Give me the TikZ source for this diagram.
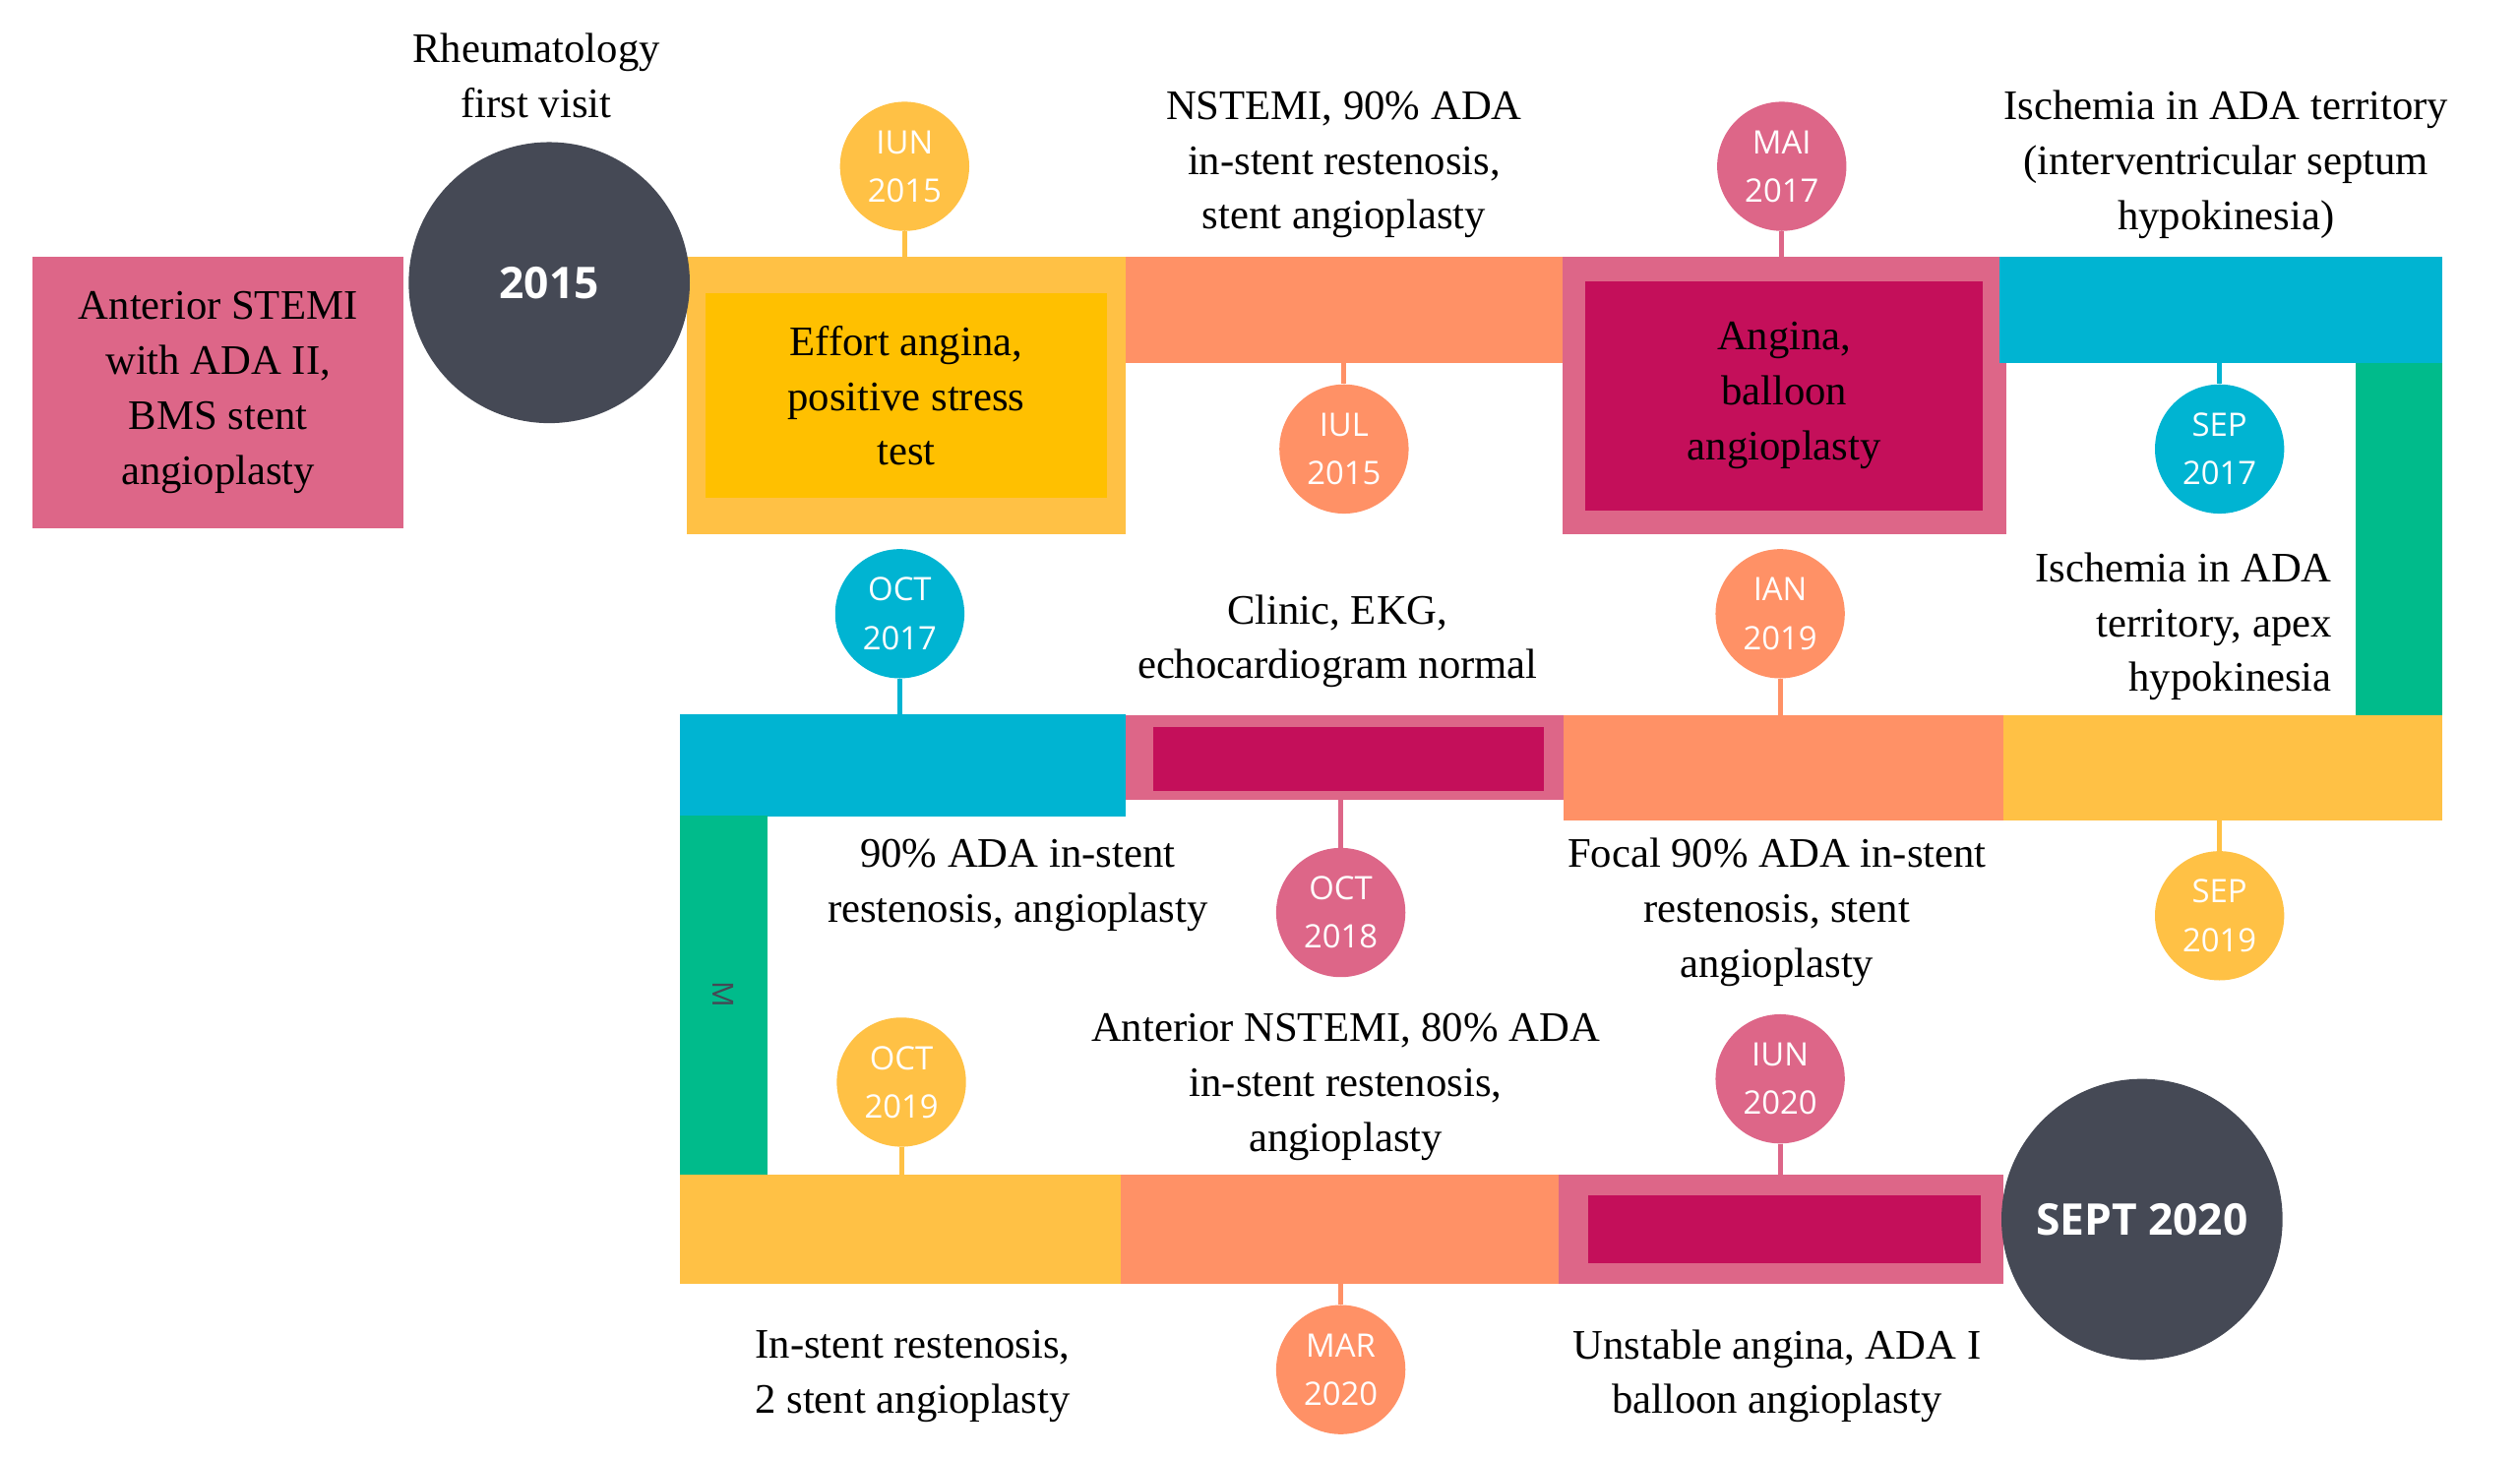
\documentclass[tikz,border=0pt]{standalone}
\usepackage{fontspec}
\setmainfont{Liberation Serif}
\newfontfamily\datefont{Open Sans}
\usetikzlibrary{positioning}
\definecolor{cYel}{HTML}{FFC145}
\definecolor{cGold}{HTML}{FFC000}
\definecolor{cOra}{HTML}{FF9166}
\definecolor{cPink}{HTML}{DD6688}
\definecolor{cRed}{HTML}{C40F5A}
\definecolor{cBlue}{HTML}{00B4D2}
\definecolor{cGreen}{HTML}{00BB8B}
\definecolor{cDark}{HTML}{454955}
\begin{document}
\begin{tikzpicture}
      [x=1pt, y=-1pt,
      bar/.style={rectangle, fill=#1, draw=none, inner sep=0pt, outer sep=0pt},
      date/.style={circle, fill=#1, minimum size=80pt, inner sep=0pt, align=center,
        text=white, font=\datefont\fontsize{20}{30}\selectfont},
      year/.style={circle, fill=cDark, minimum size=174pt, inner sep=0pt,
        text=white, font=\datefont\bfseries\fontsize{27}{30}\selectfont},
      stem/.style={draw=#1, line width=3pt},
      note/.style={align=center, font=\fontsize{26}{34}\selectfont}
      ]
    \useasboundingbox (0,0) rectangle (1560,902);

    % first row
    \node[bar=cPink, minimum width=230pt, minimum height=168pt, note] (stemi) at (135,243)
      {Anterior STEMI\\with ADA II,\\BMS stent\\angioplasty};
    \node[bar=cYel, minimum width=272pt, minimum height=172pt] (r1a) at (561,245) {};
    \node[bar=cGold, minimum width=248pt, minimum height=127pt, note] at (r1a) {Effort angina,\\positive stress\\test};
    \node[bar=cOra, minimum width=273pt, minimum height=66pt] (r1b) at (833.5,192) {};
    \node[bar=cPink, minimum width=275pt, minimum height=172pt] (r1c) at (1104.5,245) {};
    \node[bar=cRed, minimum width=246pt, minimum height=142pt, note] at (r1c) {Angina,\\balloon\\angioplasty};
    \node[bar=cBlue, minimum width=274pt, minimum height=66pt] (r1d) at (1375,192) {};
    \node[bar=cGreen, minimum width=54pt, minimum height=218pt] (g1) at (1485,334) {};
    \node[year] (y2015) at (340,175) {2015};
    \node[note] at (332,47) {Rheumatology\\first visit};

    \node[date=cYel] (d1) at (560,103) {IUN\\2015};
    \node[date=cOra] (d2) at (832,278) {IUL\\2015};
    \node[date=cPink] (d3) at (1103,103) {MAI\\2017};
    \node[date=cBlue] (d4) at (1374,278) {SEP\\2017};
    \draw[stem=cYel] (d1) -- (d1 |- r1a.north);
    \draw[stem=cOra] (d2) -- (d2 |- r1b.south);
    \draw[stem=cPink] (d3) -- (d3 |- r1c.north);
    \draw[stem=cBlue] (d4) -- (d4 |- r1d.south);
    \node[note] at (832,102) {NSTEMI, 90\% ADA\\in-stent restenosis,\\stent angioplasty};
    \node[note] at (1378,102) {Ischemia in ADA territory\\(interventricular septum\\hypokinesia)};

    % second row
    \node[bar=cBlue, minimum width=276pt, minimum height=63pt] (r2a) at (559,474) {};
    \node[bar=cGreen, minimum width=54pt, minimum height=222pt] (g2) at (448,616) {};
    \node[rotate=-90, text=cDark, font=\datefont\fontsize{18}{20}\selectfont] at (g2) {M};
    \node[bar=cPink, minimum width=271pt, minimum height=52pt] (r2b) at (832.5,469) {};
    \node[bar=cRed, minimum width=242pt, minimum height=40pt] at (835,470) {};
    \node[bar=cOra, minimum width=272pt, minimum height=65pt] (r2c) at (1104,475.5) {};
    \node[bar=cYel, minimum width=272pt, minimum height=65pt] (r2d) at (1376,475.5) {};

    \node[date=cBlue] (d5) at (557,380) {OCT\\2017};
    \node[date=cPink] (d6) at (830,565) {OCT\\2018};
    \node[date=cOra] (d7) at (1102,380) {IAN\\2019};
    \node[date=cYel] (d8) at (1374,567) {SEP\\2019};
    \draw[stem=cBlue] (d5) -- (d5 |- r2a.north);
    \draw[stem=cPink] (d6) -- (d6 |- r2b.south);
    \draw[stem=cOra] (d7) -- (d7 |- r2c.north);
    \draw[stem=cYel] (d8) -- (d8 |- r2d.south);
    \node[note] at (828,397) {Clinic, EKG,\\echocardiogram normal};
    \node[note, align=right, anchor=east] at (1447,388) {Ischemia in ADA\\territory, apex\\hypokinesia};
    \node[note] at (630,548) {90\% ADA in-stent\\restenosis, angioplasty};
    \node[note] at (1100,565) {Focal 90\% ADA in-stent\\restenosis, stent\\angioplasty};

    % third row
    \node[bar=cYel, minimum width=273pt, minimum height=68pt] (r3a) at (557.5,761) {};
    \node[bar=cOra, minimum width=273pt, minimum height=68pt] (r3b) at (830.5,761) {};
    \node[bar=cPink, minimum width=275pt, minimum height=68pt] (r3c) at (1102.5,761) {};
    \node[bar=cRed, minimum width=243pt, minimum height=42pt] at (1104.5,761) {};
    \node[year] (y2020) at (1326,755) {SEPT 2020};

    \node[date=cYel] (d9) at (558,670) {OCT\\2019};
    \node[date=cOra] (d10) at (830,848) {MAR\\2020};
    \node[date=cPink] (d11) at (1102,668) {IUN\\2020};
    \draw[stem=cYel] (d9) -- (d9 |- r3a.north);
    \draw[stem=cOra] (d10) -- (d10 |- r3b.south);
    \draw[stem=cPink] (d11) -- (d11 |- r3c.north);
    \node[note] at (833,673) {Anterior NSTEMI, 80\% ADA\\in-stent restenosis,\\angioplasty};
    \node[note] at (565,852) {In-stent restenosis,\\2 stent angioplasty};
    \node[note] at (1100,852) {Unstable angina, ADA I\\balloon angioplasty};
\end{tikzpicture}
\end{document}
